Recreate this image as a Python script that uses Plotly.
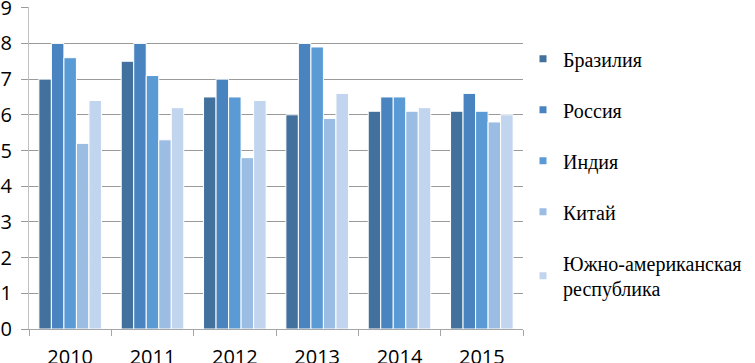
import plotly.graph_objects as go

years = ["2010", "2011", "2012", "2013", "2014", "2015"]
series_names = ["Бразилия", "Россия", "Индия", "Китай", "Южно-американская<br>республика"]
brazil = [7.0, 7.5, 6.5, 6.0, 6.1, 6.1]
russia = [8.0, 8.0, 7.0, 8.0, 6.5, 6.6]
india = [7.6, 7.1, 6.5, 7.9, 6.5, 6.1]
china = [5.2, 5.3, 4.8, 5.9, 6.1, 5.8]
south_africa = [6.4, 6.2, 6.4, 6.6, 6.2, 6.0]
y_ticks = [0, 1, 2, 3, 4, 5, 6, 7, 8, 9]

values = [brazil, russia, india, china, south_africa]
colors = ["#41719c", "#4a84c0", "#5b9bd5", "#9cbde3", "#c2d5ee"]

fig = go.Figure()
for name, vals, col in zip(series_names, values, colors):
    fig.add_trace(go.Bar(x=years, y=vals, name=name, marker=dict(color=col, line=dict(color="white", width=1)),
                         showlegend=False))
for i, (name, col) in enumerate(zip(series_names, colors)):
    fig.add_trace(go.Scatter(x=[None], y=[None], mode="markers", name=name, legendgroup=f"g{i}",
                             marker=dict(symbol="square", size=7, color=col)))

fig.update_layout(
    width=755, height=363,
    margin=dict(l=29, r=232, t=7, b=34),
    plot_bgcolor="white", paper_bgcolor="white",
    barmode="group", bargap=0.24, bargroupgap=0.0,
    font=dict(family="Open Sans", size=20, color="black"),
    legend=dict(x=1.0, y=0.9, xanchor="left", yanchor="top",
                font=dict(family="Liberation Serif", size=20, color="black"),
                tracegroupgap=22, itemwidth=30, bgcolor="rgba(0,0,0,0)"),
    xaxis=dict(type="category", showgrid=False, showline=True, linecolor="#a6a6a6", linewidth=1,
               ticks="outside", tickson="boundaries", ticklen=6, tickcolor="#a6a6a6", automargin=False,
               ticklabelstandoff=10,
               tickfont=dict(family="Open Sans", size=20, color="black")),
    yaxis=dict(range=[0, 9.02], tickvals=y_ticks, showgrid=True, gridcolor="#9a9a9a", gridwidth=1,
               showline=True, linecolor="#c0c0c0", linewidth=1, ticks="outside", ticklen=7,
               tickcolor="#9a9a9a", zeroline=False, automargin=False, ticklabelstandoff=5,
               ticklabeloverflow="allow",
               tickfont=dict(family="Open Sans", size=20, color="black")),
)
fig.write_html("out.html", config={"displayModeBar": False},
               post_script="document.body.style.margin='0';")
